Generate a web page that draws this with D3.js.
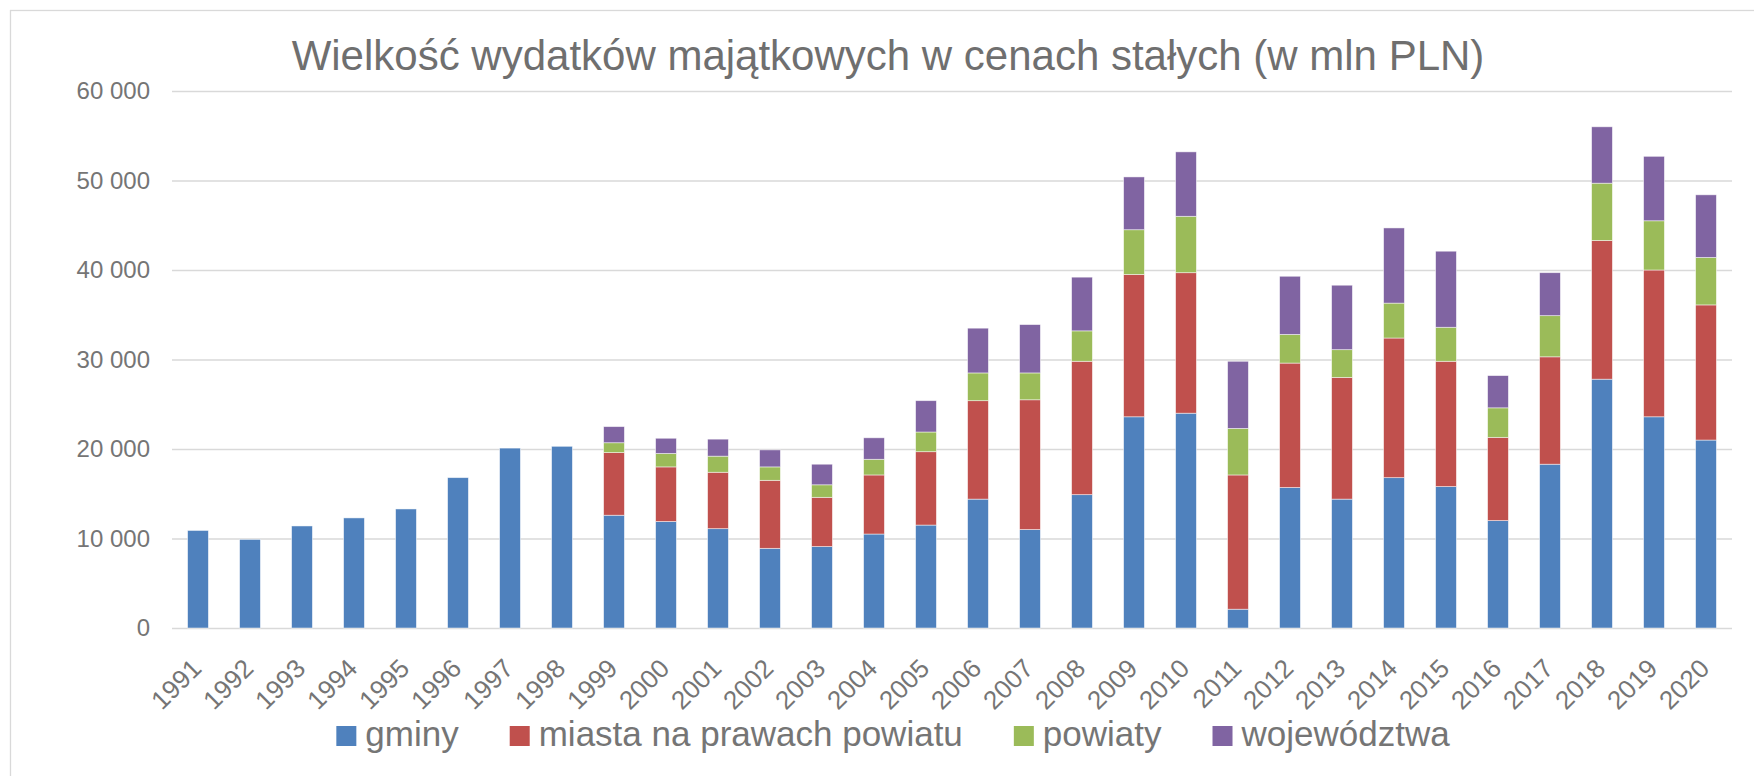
<!DOCTYPE html>
<html lang='pl'>
<head>
<meta http-equiv='Content-Type' content='text/html;charset=utf-8'/>
<title>Wielkość wydatków majątkowych</title>
<script src='https://d3js.org/d3.v7.min.js'></script>
<style>
  body { margin: 0; background: #ffffff; }
  text { font-family: 'Liberation Sans', Arial, sans-serif; fill: #757575; }
</style>
</head>
<body>
<script>
'use strict'

// data (mln PLN, constant prices)
const years = ['1991','1992','1993','1994','1995','1996','1997','1998','1999','2000',
  '2001','2002','2003','2004','2005','2006','2007','2008','2009','2010',
  '2011','2012','2013','2014','2015','2016','2017','2018','2019','2020']
const gminy = [10900, 9900, 11400, 12300, 13300, 16800, 20100, 20300, 12600, 11900,
  11100, 8900, 9100, 10500, 11500, 14400, 11000, 14900, 23600, 24000,
  2100, 15700, 14400, 16800, 15800, 12000, 18300, 27800, 23600, 21000]
const miasta = [0, 0, 0, 0, 0, 0, 0, 0, 7000, 6100,
  6300, 7600, 5500, 6600, 8200, 11000, 14500, 14900, 15900, 15700,
  15000, 13900, 13600, 15600, 14000, 9300, 12000, 15500, 16400, 15100]
const powiaty = [0, 0, 0, 0, 0, 0, 0, 0, 1100, 1500,
  1800, 1500, 1400, 1750, 2200, 3100, 3000, 3400, 5000, 6300,
  5200, 3200, 3100, 3900, 3800, 3300, 4600, 6400, 5500, 5300]
const wojewodztwa = [0, 0, 0, 0, 0, 0, 0, 0, 1800, 1700,
  1900, 1900, 2300, 2400, 3500, 5000, 5400, 6000, 5900, 7200,
  7500, 6500, 7200, 8400, 8500, 3600, 4800, 6300, 7200, 7000]
const seriesNames = ['gminy', 'miasta na prawach powiatu', 'powiaty', 'województwa']
const yTicks = [0, 10000, 20000, 30000, 40000, 50000, 60000]

const colors = ['#4f81bd', '#c0504d', '#9bbb59', '#8064a2']

const W = 1754
const H = 776
const margin = {top: 91, right: 22, bottom: 148, left: 172}
const width = W - margin.left - margin.right
const height = H - margin.top - margin.bottom

const svg = d3.select('body').append('svg')
  .attr('width', W)
  .attr('height', H)

// chart frame (cut off at right and bottom, as in the original)
svg.append('rect')
  .attr('x', 10.5).attr('y', 10.5)
  .attr('width', W + 10).attr('height', H + 10)
  .attr('fill', '#ffffff')
  .attr('stroke', '#d9d9d9')
  .attr('stroke-width', 1.3)

svg.append('text')
  .attr('x', 888)
  .attr('y', 70)
  .attr('text-anchor', 'middle')
  .style('font-size', '42px')
  .style('fill', '#6f6f6f')
  .text('Wielkość wydatków majątkowych w cenach stałych (w mln PLN)')

const g = svg.append('g')
  .attr('transform', 'translate(' + margin.left + ',' + margin.top + ')')

const x = d3.scaleBand()
  .domain(years)
  .range([0, width])
  .paddingInner(0.6)
  .paddingOuter(0.3)

const y = d3.scaleLinear()
  .domain([0, 60000])
  .range([height, 0])

const pl = d3.formatLocale({decimal: ',', thousands: ' ', grouping: [3], currency: ['', ' zł']})
const fmt = pl.format(',')

// gridlines + y labels
const yAxis = g.append('g')
  .call(d3.axisLeft(y).tickValues(yTicks).tickSize(-width).tickFormat(fmt).tickPadding(22))
yAxis.select('.domain').remove()
yAxis.selectAll('line')
  .attr('stroke', '#d9d9d9')
  .attr('stroke-width', 1.3)
yAxis.selectAll('text')
  .style('font-size', '24px')
  .attr('fill', '#757575')

// stacked bars
const table = years.map(function(yr, i) {
  return {year: yr, s0: gminy[i], s1: miasta[i], s2: powiaty[i], s3: wojewodztwa[i]}
})
const stack = d3.stack().keys(['s0', 's1', 's2', 's3'])(table)

g.selectAll('.layer')
  .data(stack)
  .join('g')
  .attr('class', 'layer')
  .attr('fill', function(d, i) { return colors[i] })
  .selectAll('rect')
  .data(function(d) { return d.filter(function(p) { return p[1] - p[0] > 0 }) })
  .join('rect')
  .attr('x', function(d) { return x(d.data.year) })
  .attr('y', function(d) { return y(d[1]) })
  .attr('width', x.bandwidth())
  .attr('height', function(d) { return y(d[0]) - y(d[1]) })
  .attr('stroke', '#ffffff')
  .attr('stroke-opacity', 0.6)
  .attr('stroke-width', 0.8)

// x labels, rotated
g.append('g')
  .selectAll('text')
  .data(years)
  .join('text')
  .attr('transform', function(d) {
    return 'translate(' + (x(d) + x.bandwidth() / 2 + 5) + ',' + (height + 42) + ') rotate(-45)'
  })
  .attr('text-anchor', 'end')
  .style('font-size', '26px')
  .text(function(d) { return d })

// legend
const legend = svg.append('g')
const items = legend.selectAll('g')
  .data(seriesNames)
  .join('g')
items.append('rect')
  .attr('width', 20).attr('height', 20)
  .attr('y', 726)
  .attr('fill', function(d, i) { return colors[i] })
items.append('text')
  .attr('x', 29)
  .attr('y', 746)
  .style('font-size', '35px')
  .text(function(d) { return d })

let pos = 0
const offsets = []
items.each(function() {
  offsets.push(pos)
  pos += 29 + this.querySelector('text').getComputedTextLength() + 51
})
const total = pos - 51
const start = 893 - total / 2
items.attr('transform', function(d, i) { return 'translate(' + (start + offsets[i]) + ',0)' })
</script>
</body>
</html>
